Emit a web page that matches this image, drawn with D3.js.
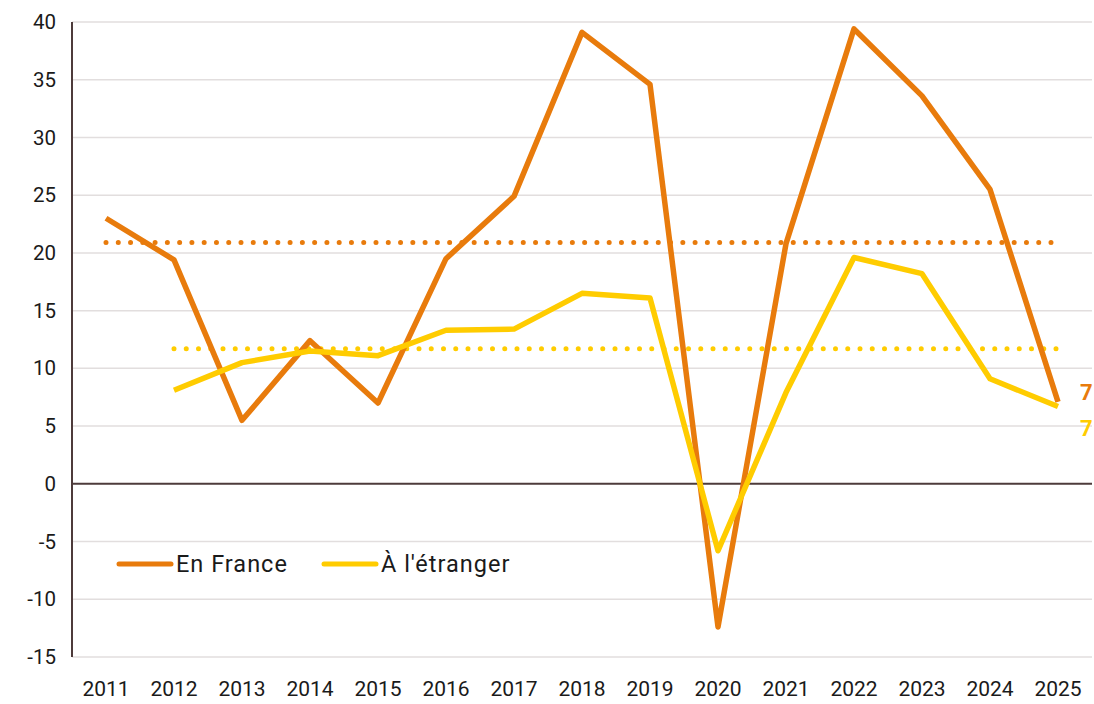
<!DOCTYPE html>
<html>
<head>
<meta charset="utf-8">
<script src="https://cdn.jsdelivr.net/npm/d3@7"></script>
<style>
  body { margin: 0; background: #fff; }
  svg text { font-family: Roboto, "Noto Sans", sans-serif; fill: #1a1a1a; }
</style>
</head>
<body>
<svg width="1094" height="704"></svg>
<script>
// data
var years = ['2011', '2012', '2013', '2014', '2015', '2016', '2017', '2018',
  '2019', '2020', '2021', '2022', '2023', '2024', '2025'];
var enFrance = [23, 19.4, 5.5, 12.4, 7, 19.5, 24.9, 39.1, 34.6, -12.4, 20.8, 39.4, 33.6, 25.5, 7.1];
var aLEtranger = [null, 8.1, 10.5, 11.5, 11.1, 13.3, 13.4, 16.5, 16.1, -5.8, 7.9, 19.6, 18.2, 9.1, 6.7];
var avgFrance = 20.9;
var avgEtranger = 11.7;
var yTicks = [-15, -10, -5, 0, 5, 10, 15, 20, 25, 30, 35, 40];

var plotLeft = 72, plotRight = 1092, plotTop = 22, plotBottom = 657;
var orange = '#E87B0C';
var yellow = '#FFCC00';

var svg = d3.select('svg');

var xScale = d3.scaleBand().domain(years).range([plotLeft, plotRight]);
var yScale = d3.scaleLinear().domain([-15, 40]).range([plotBottom, plotTop]);
var xc = (d) => xScale(d) + xScale.bandwidth() / 2;

// grid
svg.append('g')
  .selectAll('line')
  .data(yTicks.filter((d) => d !== 0))
  .enter()
  .append('line')
  .attr('x1', plotLeft)
  .attr('x2', plotRight)
  .attr('y1', (d) => yScale(d))
  .attr('y2', (d) => yScale(d))
  .attr('stroke', '#e2dede')
  .attr('stroke-width', 1.5);

// y axis
var yAxis = d3.axisLeft(yScale).tickValues(yTicks).tickFormat((d) => String(d))
  .tickSize(0).tickPadding(16);
var gy = svg.append('g')
  .attr('transform', 'translate(' + plotLeft + ',0)')
  .call(yAxis);
gy.select('.domain').remove();
gy.selectAll('text').attr('font-size', '20.5px').attr('fill', '#1a1a1a');

svg.append('line')
  .attr('x1', plotLeft).attr('x2', plotLeft)
  .attr('y1', plotTop).attr('y2', plotBottom)
  .attr('stroke', '#4d3b3b').attr('stroke-width', 2);
svg.append('line')
  .attr('x1', plotLeft).attr('x2', plotRight)
  .attr('y1', yScale(0)).attr('y2', yScale(0))
  .attr('stroke', '#4d3b3b').attr('stroke-width', 2);

// x axis labels
var xAxis = d3.axisBottom(xScale).tickSize(0).tickPadding(24);
var gx = svg.append('g')
  .attr('transform', 'translate(0,' + plotBottom + ')')
  .call(xAxis);
gx.select('.domain').remove();
gx.selectAll('text').attr('font-size', '21px').attr('fill', '#1a1a1a');

// averages (dotted)
function dotted(x1, x2, v, color) {
  var n = Math.round((x2 - x1) / 12.3);
  svg.append('line')
    .attr('x1', x1).attr('x2', x2 + 1)
    .attr('y1', yScale(v)).attr('y2', yScale(v))
    .attr('stroke', color).attr('stroke-width', 5)
    .attr('stroke-linecap', 'round')
    .attr('stroke-dasharray', '0 ' + (x2 - x1) / n);
}
dotted(xc('2011'), xc('2025') - 7, avgFrance, orange);
dotted(xc('2012'), xc('2025') - 2, avgEtranger, yellow);

// lines
var line = d3.line()
  .defined((d) => d.v !== null)
  .x((d) => xc(d.year))
  .y((d) => yScale(d.v));

var series = [
  { name: 'En France', color: orange, values: enFrance },
  { name: "À l'étranger", color: yellow, values: aLEtranger },
];

svg.selectAll('path.series')
  .data(series)
  .enter()
  .append('path')
  .attr('class', 'series')
  .attr('fill', 'none')
  .attr('stroke', (d) => d.color)
  .attr('stroke-width', 5.5)
  .attr('stroke-linejoin', 'round')
  .attr('d', (d) => line(d.values.map((v, i) => ({ year: years[i], v: v }))));

// end labels
svg.append('text')
  .attr('x', 1080).attr('y', 392).attr('dy', '0.35em')
  .attr('font-size', '22px').attr('font-weight', 'bold')
  .style('fill', orange)
  .text(d3.format('.0f')(enFrance[enFrance.length - 1]));
svg.append('text')
  .attr('x', 1080).attr('y', 428).attr('dy', '0.35em')
  .attr('font-size', '22px').attr('font-weight', 'bold')
  .style('fill', yellow)
  .text(d3.format('.0f')(aLEtranger[aLEtranger.length - 1]));

// legend
var legend = svg.append('g').attr('transform', 'translate(119,564)');
var lx = [0, 205];
series.forEach(function (s, i) {
  legend.append('line')
    .attr('x1', lx[i]).attr('x2', lx[i] + 52)
    .attr('y1', 0).attr('y2', 0)
    .attr('stroke', s.color).attr('stroke-width', 5)
    .attr('stroke-linecap', 'round');
  legend.append('text')
    .attr('x', lx[i] + 57).attr('y', 0).attr('dy', '0.35em')
    .attr('font-size', '23.5px')
    .style('letter-spacing', '1px')
    .text(s.name);
});
</script>
</body>
</html>
